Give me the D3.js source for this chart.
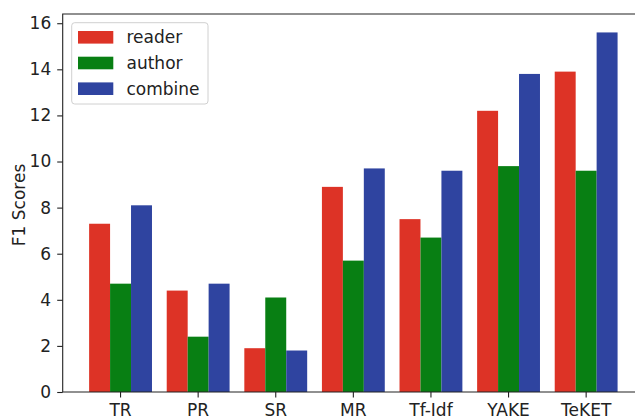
<!DOCTYPE html>
<html>
<head>
<meta charset="utf-8">
<script src="https://d3js.org/d3.v7.min.js"></script>
<style>
  body { margin: 0; background: #fff; }
  text { font-family: "DejaVu Sans", sans-serif; fill: #222; }
</style>
</head>
<body>
<svg width="635" height="418"></svg>
<script>
// data
var methods = ["TR", "PR", "SR", "MR", "Tf-Idf", "YAKE", "TeKET"];
var series = ["reader", "author", "combine"];
var reader = [7.3, 4.4, 1.9, 8.9, 7.5, 12.2, 13.9];
var author = [4.7, 2.4, 4.1, 5.7, 6.7, 9.8, 9.6];
var combine = [8.1, 4.7, 1.8, 9.7, 9.6, 13.8, 15.6];
var yTicks = [0, 2, 4, 6, 8, 10, 12, 14, 16];
var colors = ["#dd3326", "#087f13", "#2f44a0"];

var values = [reader, author, combine];
var svg = d3.select("svg");

// plot area (right edge falls outside the picture, like the original)
var pLeft = 62.7, pRight = 644, pTop = 14, pBottom = 392;

var x = d3.scaleBand().domain(methods).range([pLeft, pRight])
    .paddingInner(0.19).paddingOuter(0.3405);
var xs = d3.scaleBand().domain(series).range([0, x.bandwidth()]);
var y = d3.scaleLinear().domain([0, 16.4]).range([pBottom, pTop]);

// bars
series.forEach(function (s, j) {
    svg.append("g").selectAll("rect")
      .data(methods)
      .enter().append("rect")
      .attr("x", function (d) { return x(d) + xs(s); })
      .attr("width", xs.bandwidth())
      .attr("y", function (d, i) { return y(values[j][i]); })
      .attr("height", function (d, i) { return pBottom - y(values[j][i]); })
      .attr("fill", colors[j]);
});

// axes
var yAxis = d3.axisLeft(y).tickValues(yTicks).tickSize(5.5).tickPadding(6);
var gy = svg.append("g").attr("transform", "translate(" + pLeft + ",0)").call(yAxis);
var xAxis = d3.axisBottom(x).tickSize(5.5).tickPadding(6);
var gx = svg.append("g").attr("transform", "translate(0," + pBottom + ")").call(xAxis);
[gx, gy].forEach(function (g) {
    g.select(".domain").remove();
    g.selectAll("line").attr("stroke", "#222").attr("stroke-width", 1.1);
    g.selectAll("text").attr("font-size", 17).attr("fill", "#222")
      .style("font-family", "DejaVu Sans");
});

// spines (left, top, bottom)
svg.append("path")
  .attr("d", "M" + pRight + "," + pTop + "H" + pLeft + "V" + pBottom + "H" + pRight)
  .attr("fill", "none").attr("stroke", "#222").attr("stroke-width", 1.1);

svg.append("text")
  .attr("transform", "translate(25," + ((pTop + pBottom) / 2 + 2) + ") rotate(-90)")
  .attr("text-anchor", "middle")
  .attr("font-size", 17)
  .text("F1 Scores");

// legend
var lg = svg.append("g");
lg.append("rect")
  .attr("x", 71.7).attr("y", 22.7).attr("width", 136.3).attr("height", 81.3)
  .attr("rx", 3).attr("fill", "#fff").attr("fill-opacity", 0.8)
  .attr("stroke", "#d0d0d0");
series.forEach(function (s, j) {
    var cy = 37.3 + j * 25.7;
    lg.append("rect").attr("x", 78).attr("y", cy - 6.3)
      .attr("width", 35.3).attr("height", 12.6).attr("fill", colors[j]);
    lg.append("text").attr("x", 126.5).attr("y", cy + 6)
      .attr("font-size", 17).text(s);
});
</script>
</body>
</html>
